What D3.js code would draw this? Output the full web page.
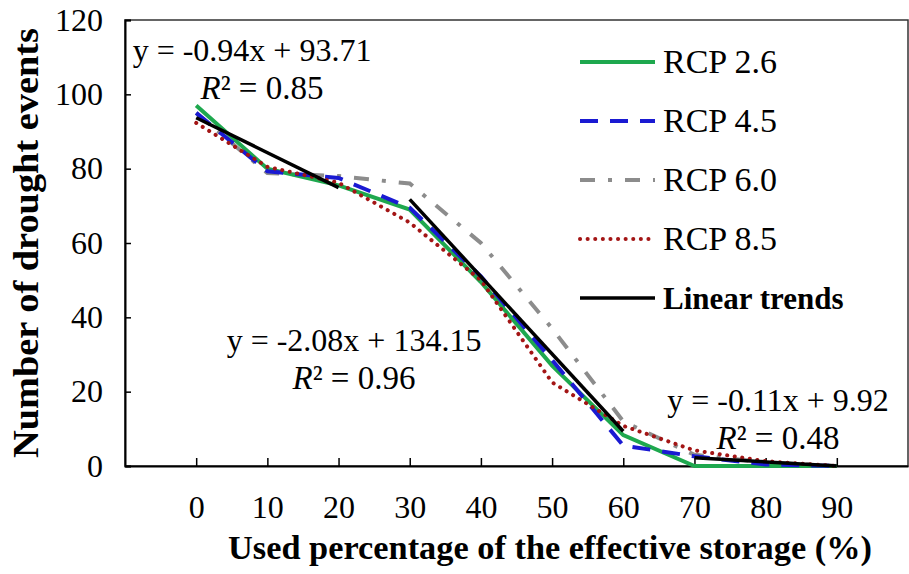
<!DOCTYPE html>
<html>
<head>
<meta charset="utf-8">
<script src="https://d3js.org/d3.v7.min.js"></script>
<style>
  body { margin: 0; background: #fff; }
  svg text { font-family: "Liberation Serif", "Times New Roman", serif; fill: #000; }
</style>
</head>
<body>
<div id="chart"></div>
<script>
// Data
const storagePct = [0, 10, 20, 30, 40, 50, 60, 70, 80, 90];
const rcp26 = [97, 80, 75.5, 69, 49.5, 27, 8.3, 0, 0, 0];
const rcp45 = [95, 79.3, 77.5, 69.5, 51, 28.5, 5.5, 2.6, 0.4, 0];
const rcp60 = [95, 78.8, 78, 76, 60, 37, 12, 3, 1, 0];
const rcp85 = [92.3, 80.5, 76.2, 65.5, 50, 22.5, 10.8, 4.2, 1.3, 0];
const yTicks = [0, 20, 40, 60, 80, 100, 120];

// Linear trends (slope, intercept, x range) and their labels
const trends = [
    { a: -0.94, b: 93.71, x0: 0, x1: 20, eq: "y = -0.94x + 93.71", r2: "0.85" },
    { a: -2.08, b: 134.15, x0: 30, x1: 60, eq: "y = -2.08x + 134.15", r2: "0.96" },
    { a: -0.11, b: 9.92, x0: 70, x1: 90, eq: "y = -0.11x + 9.92", r2: "0.48" }
];

const series = [
    { name: "RCP 2.6", values: rcp26, color: "#1ea84e", dash: null, cap: "butt" },
    { name: "RCP 4.5", values: rcp45, color: "#1a1ad2", dash: "18,12", cap: "butt" },
    { name: "RCP 6.0", values: rcp60, color: "#8c8c8c", dash: "15,13,4,13", cap: "butt" },
    { name: "RCP 8.5", values: rcp85, color: "#a31515", dash: "0.1,7.5", cap: "round" }
];

const width = 909, height = 574;
const plot = { left: 125, top: 20, right: 908, bottom: 466 };

const svg = d3.select("#chart").append("svg")
    .attr("width", width)
    .attr("height", height);

const x = d3.scaleLinear().domain([-10, 100]).range([plot.left, plot.right]);
const y = d3.scaleLinear().domain([0, 120]).range([plot.bottom, plot.top]);

// Frame (top / right)
svg.append("rect")
    .attr("x", plot.left).attr("y", plot.top)
    .attr("width", plot.right - plot.left).attr("height", plot.bottom - plot.top)
    .attr("fill", "none").attr("stroke", "#333").attr("stroke-width", 1.5);

// Y axis with inner ticks
const yAxis = svg.append("g")
    .attr("transform", `translate(${plot.left},0)`)
    .call(d3.axisLeft(y).tickValues(yTicks).tickSize(-6).tickPadding(22));
yAxis.select(".domain").attr("stroke", "#000").attr("stroke-width", 2);
yAxis.selectAll(".tick line").attr("stroke", "#000").attr("stroke-width", 1.5);
yAxis.selectAll("text").attr("font-size", 32).attr("font-family", "Liberation Serif");

// X axis with inner ticks
const xAxis = svg.append("g")
    .attr("transform", `translate(0,${plot.bottom})`)
    .call(d3.axisBottom(x).tickValues(storagePct).tickSize(-8).tickPadding(29).tickSizeOuter(0));
xAxis.select(".domain").attr("stroke", "#000").attr("stroke-width", 2);
xAxis.selectAll(".tick line").attr("stroke", "#000").attr("stroke-width", 1.5);
xAxis.selectAll("text").attr("font-size", 32).attr("font-family", "Liberation Serif");

// Axis titles
svg.append("text")
    .attr("x", 550).attr("y", 559)
    .attr("text-anchor", "middle")
    .attr("font-size", 34).attr("font-weight", "bold")
    .attr("textLength", 644).attr("lengthAdjust", "spacingAndGlyphs")
    .text("Used percentage of the effective storage (%)");

svg.append("text")
    .attr("transform", "translate(38,243) rotate(-90)")
    .attr("text-anchor", "middle")
    .attr("font-size", 35).attr("font-weight", "bold")
    .attr("textLength", 430).attr("lengthAdjust", "spacingAndGlyphs")
    .text("Number of drought events");

// Series lines
const line = d3.line()
    .x((d, i) => x(storagePct[i]))
    .y(d => y(d));

const drawOrder = [series[2], series[0], series[1], series[3]];
drawOrder.forEach(s => {
    svg.append("path")
        .datum(s.values)
        .attr("d", line)
        .attr("fill", "none")
        .attr("stroke", s.color)
        .attr("stroke-width", 4)
        .attr("stroke-linecap", s.cap)
        .attr("stroke-dasharray", s.dash);
});

// Trend lines
trends.forEach(t => {
    svg.append("line")
        .attr("x1", x(t.x0)).attr("y1", y(t.a * t.x0 + t.b))
        .attr("x2", x(t.x1)).attr("y2", y(t.a * t.x1 + t.b))
        .attr("stroke", "#000").attr("stroke-width", 3.5);
});

// Trend equations
const labelPos = [
    { x: 252, y: 61, rx: 262 },
    { x: 354, y: 351, rx: 354 },
    { x: 778, y: 411, rx: 778 }
];
trends.forEach((t, i) => {
    const p = labelPos[i];
    svg.append("text")
        .attr("x", p.x).attr("y", p.y)
        .attr("text-anchor", "middle")
        .attr("font-size", 32)
        .text(t.eq);
    const r = svg.append("text")
        .attr("x", p.rx).attr("y", p.y + 38)
        .attr("text-anchor", "middle")
        .attr("font-size", 33);
    r.append("tspan").attr("font-style", "italic").text("R");
    r.append("tspan").text("² = " + t.r2);
});

// Legend
const legendItems = series.map(s => ({ name: s.name, color: s.color, dash: s.dash, cap: s.cap, bold: false }))
    .concat([{ name: "Linear trends", color: "#000", dash: null, cap: "butt", bold: true }]);

const legend = svg.append("g");
legendItems.forEach((d, i) => {
    const ly = 62 + i * 59;
    legend.append("line")
        .attr("x1", 580).attr("x2", 655)
        .attr("y1", ly).attr("y2", ly)
        .attr("stroke", d.color)
        .attr("stroke-width", d.bold ? 3.5 : 4)
        .attr("stroke-linecap", d.cap)
        .attr("stroke-dasharray", d.dash);
    legend.append("text")
        .attr("x", 663).attr("y", ly + 11)
        .attr("font-size", d.bold ? 31 : 34)
        .attr("font-weight", d.bold ? "bold" : "normal")
        .text(d.name);
});
</script>
</body>
</html>
